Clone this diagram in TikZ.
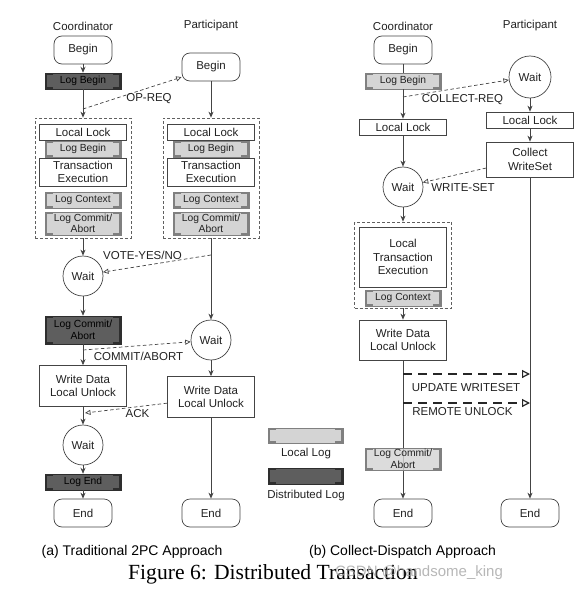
\documentclass[tikz,border=0pt]{standalone}
\usepackage{fontspec}
\setmainfont{Liberation Sans}
\newfontfamily\capserif{Liberation Serif}
\usetikzlibrary{arrows.meta,calc}
\definecolor{linec}{HTML}{444444}
\definecolor{txtc}{HTML}{222222}
\definecolor{lightlog}{HTML}{D4D4D4}
\definecolor{lightbr}{HTML}{808080}
\definecolor{darklog}{HTML}{5E5E5E}
\definecolor{darkbr}{HTML}{2E2E2E}
\tikzset{
  base/.style={font=\fontsize{11.5}{13.5}\selectfont, text=txtc, align=center, inner sep=0pt},
  box/.style={base, draw=linec, fill=white, line width=0.7pt, minimum width=87pt},
  startend/.style={base, draw=linec, fill=white, rounded corners=8pt, minimum width=58pt, minimum height=28pt, line width=0.7pt},
  waitc/.style={base, circle, draw=linec, fill=white, minimum size=40pt, line width=0.7pt},
  bracket/.style={path picture={
      \draw[line width=3.6pt, #1]
        ($(path picture bounding box.north west)+(8,0)$) -- (path picture bounding box.north west)
        -- (path picture bounding box.south west) -- ($(path picture bounding box.south west)+(8,0)$);
      \draw[line width=3.6pt, #1]
        ($(path picture bounding box.north east)+(-8,0)$) -- (path picture bounding box.north east)
        -- (path picture bounding box.south east) -- ($(path picture bounding box.south east)+(-8,0)$);
  }},
  logbox/.style={font=\fontsize{10.3}{11.5}\selectfont, align=center, inner sep=0pt, minimum width=76pt, minimum height=16pt, draw=#1, line width=0.5pt, bracket=#1},
  llog/.style={logbox=lightbr, fill=lightlog, text=txtc},
  dlog/.style={logbox=darkbr, fill=darklog, text=black},
  group/.style={draw=linec!85, line width=0.7pt, dash pattern=on 3pt off 2pt, inner sep=0pt},
  flow/.style={draw=linec, line width=0.7pt, -{Stealth[length=6pt,width=5pt]}},
  plain/.style={draw=linec, line width=0.7pt},
  msg/.style={draw=linec, line width=0.7pt, dash pattern=on 3.5pt off 2.5pt, -{Triangle[open,length=5.5pt,width=5pt]}},
  bigmsg/.style={draw=black!85, line width=1.8pt, dash pattern=on 9pt off 6pt, -{Triangle[open,length=8pt,width=8pt,line width=1.2pt]}},
}
\begin{document}
\begin{tikzpicture}[x=1pt,y=-1pt]
\fill[white] (0,0) rectangle (588,594);
\useasboundingbox (0,0) rectangle (588,594);

% ---------------- (a) Traditional 2PC ----------------
\node[base] (cT1) at (83,26) {Coordinator};
\node[base] (pT1) at (211,26) {Participant};
\node[startend] (cB1) at (83,50) {Begin};
\node[dlog] (cLB1) at (83,81) {Log Begin};
\node[startend] (pB1) at (211,67) {Begin};

\node[group, minimum width=96pt, minimum height=120pt] (cG1) at (83,178) {};
\node[group, minimum width=96pt, minimum height=120pt] (pG1) at (211,178) {};

\node[box, minimum height=16pt] (cLL1) at (83,132) {Local Lock};
\node[llog] (cLg1) at (83,149) {Log Begin};
\node[box, minimum height=28pt] (cTE1) at (83,172) {Transaction\\Execution};
\node[llog] (cLC1) at (83,200) {Log Context};
\node[llog, minimum height=23pt] (cLCA1) at (83,223.5) {Log Commit/\\Abort};

\node[box, minimum height=16pt] (pLL1) at (211,132) {Local Lock};
\node[llog] (pLg1) at (211,149) {Log Begin};
\node[box, minimum height=28pt] (pTE1) at (211,172) {Transaction\\Execution};
\node[llog] (pLC1) at (211,200) {Log Context};
\node[llog, minimum height=23pt] (pLCA1) at (211,223.5) {Log Commit/\\Abort};

\node[waitc] (cW1) at (83,276) {Wait};
\node[dlog, minimum height=28pt] (cCA1) at (83,330) {Log Commit/\\Abort};
\node[waitc] (pW1) at (211,340) {Wait};
\node[box, minimum height=41pt] (cWD1) at (83,386) {Write Data\\Local Unlock};
\node[box, minimum height=41pt] (pWD1) at (211,397) {Write Data\\Local Unlock};
\node[waitc] (cW2) at (83,445) {Wait};
\node[dlog] (cLE1) at (83,482) {Log End};
\node[startend] (cE1) at (83,513) {End};
\node[startend] (pE1) at (211,513) {End};

\draw[flow] (cB1) -- (cLB1);
\draw[flow] (cLB1) -- (cG1);
\draw[flow] (pB1) -- (pG1);
\draw[flow] (cG1) -- (cW1);
\draw[flow] (pG1) -- (pW1);
\draw[flow] (cW1) -- (cCA1);
\draw[flow] (cCA1) -- (cWD1);
\draw[flow] (pW1) -- (pWD1);
\draw[flow] (cWD1) -- (cW2);
\draw[flow] (cW2) -- (cLE1);
\draw[flow] (cLE1) -- (cE1);
\draw[flow] (pWD1) -- (pE1);

\coordinate (opS) at (83,109);
\draw[msg] (opS) -- (pB1.199);
\node[base] (opL) at (149,99) {OP-REQ};
\coordinate (voteS) at (211,255);
\draw[msg] (voteS) -- (cW1.11);
\node[base] (voteL) at (142.5,255) {VOTE-YES/NO};
\coordinate (caS) at (83,350);
\draw[msg] (caS) -- (pW1.185);
\node[base] (caL) at (138.5,356) {COMMIT/ABORT};
\coordinate (ackE) at (85,413);
\draw[msg] (pWD1.188) -- (ackE);
\node[base] (ackL) at (137.5,414) {ACK};

% ---------------- legend ----------------
\node[llog, minimum width=75pt, minimum height=15pt] (legL) at (305.5,435.5) {};
\node[base] (legLt) at (306,454) {Local Log};
\node[dlog, minimum width=75pt] (legD) at (305.5,476) {};
\node[base] (legDt) at (306,496) {Distributed Log};

% ---------------- (b) Collect-Dispatch ----------------
\node[base] (cT2) at (403,26) {Coordinator};
\node[base] (pT2) at (530,26) {Participant};
\node[startend] (cB2) at (403,50) {Begin};
\node[llog] (cLB2) at (403,81) {Log Begin};
\node[waitc, minimum size=42pt] (pW2) at (530,77) {Wait};
\node[box, minimum height=16pt] (cLL2) at (403,127) {Local Lock};
\node[box, minimum height=16pt] (pLL2) at (530,120) {Local Lock};
\node[box, minimum height=35pt] (pCW2) at (530,159.5) {Collect\\WriteSet};
\node[waitc] (cWb) at (403,187) {Wait};
\node[group, minimum width=97pt, minimum height=86pt] (cG2) at (403,265) {};
\node[box, minimum height=60pt] (cLTE2) at (403,257) {Local\\Transaction\\Execution};
\node[llog] (cLC2) at (403,298) {Log Context};
\node[box, minimum height=40pt] (cWD2) at (403,340) {Write Data\\Local Unlock};
\node[startend] (cE2) at (403,513) {End};
\node[startend] (pE2) at (530,513) {End};

\draw[plain] (cB2) -- (cLB2);
\draw[flow] (cLB2) -- (cLL2);
\draw[flow] (cLL2) -- (cWb);
\draw[flow] (cWb) -- (cG2);
\draw[flow] (cG2) -- (cWD2);
\draw[flow] (cWD2) -- (cE2);
\draw[flow] (pW2) -- (pLL2);
\draw[flow] (pLL2) -- (pCW2);
\draw[flow] (pCW2) -- (pE2);

\node[llog, minimum height=22pt, fill opacity=0.8, text opacity=1] (cLCA2) at (403,459) {Log Commit/\\Abort};

\coordinate (crS) at (403,97);
\draw[msg] (crS) -- (pW2.188);
\node[base] (crL) at (462.5,100) {COLLECT-REQ};
\draw[msg] (pCW2.191) -- (cWb.13);
\node[base] (wsL) at (463,188) {WRITE-SET};

\coordinate (uwS) at (403,374);
\coordinate (uwE) at (530,374);
\draw[bigmsg] (uwS) -- (uwE);
\node[base] (uwL) at (466,388) {UPDATE WRITESET};
\coordinate (ruS) at (403,403);
\coordinate (ruE) at (530,403);
\draw[bigmsg] (ruS) -- (ruE);
\node[base] (ruL) at (462.5,412) {REMOTE UNLOCK};

% ---------------- captions ----------------
\node[base, font=\fontsize{14}{16}\selectfont, text=black] (capA) at (132,552) {(a) Traditional 2PC Approach};
\node[base, font=\fontsize{14}{16}\selectfont, text=black] (capB) at (402.5,552) {(b) Collect-Dispatch Approach};
\node[inner sep=0pt, font=\capserif\fontsize{21.6}{23}\selectfont, text=black] (fig) at (273,574) {Figure 6: Distributed Transaction};
\node[inner sep=0pt, font=\fontsize{15}{17}\selectfont, text=black!35, text opacity=0.8] (wm) at (419,573) {CSDN @handsome\_king};
\end{tikzpicture}
\end{document}
